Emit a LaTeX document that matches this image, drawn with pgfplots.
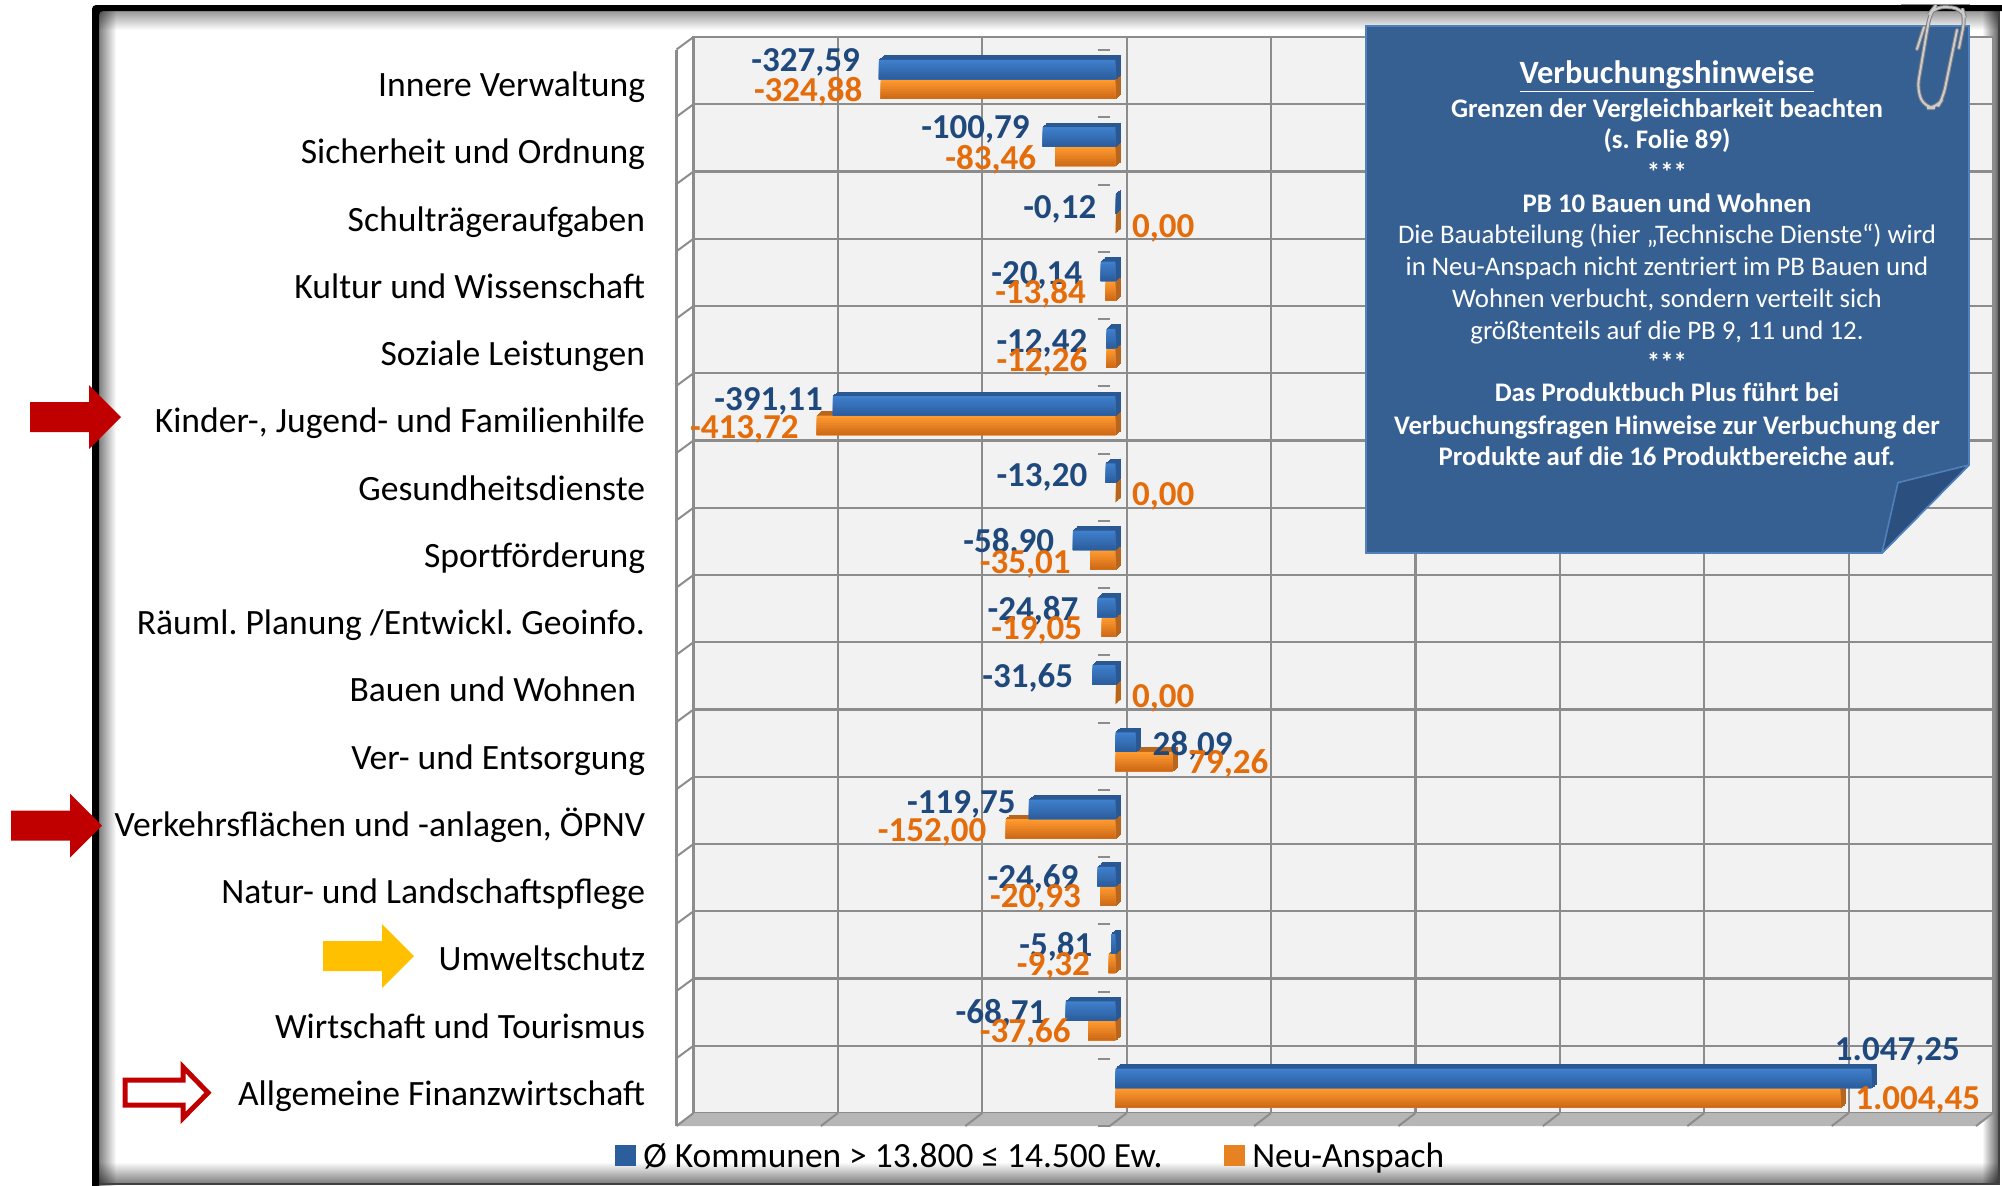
\documentclass[border=0pt]{standalone}
\usepackage{fontspec}
\setmainfont{Carlito}
\usepackage{pgfplots}
\usepackage{pgfplotstable}
\pgfplotsset{compat=1.18}
\frenchspacing
\definecolor{wallgray}{HTML}{F2F2F2}
\definecolor{gridgray}{HTML}{8C8C8C}
\definecolor{floorgray}{HTML}{B6B6B6}
\definecolor{bluetop}{HTML}{3F7FCC}
\definecolor{bluebot}{HTML}{2C5E9E}
\definecolor{blueside}{HTML}{2A5892}
\definecolor{oratop}{HTML}{FF9A2F}
\definecolor{orabot}{HTML}{CF6A18}
\definecolor{oraside}{HTML}{B8651E}
\definecolor{bluelab}{HTML}{1F497D}
\definecolor{oralab}{HTML}{E46C0A}
\definecolor{notefill}{HTML}{376092}
\definecolor{noteedge}{HTML}{4F81BD}
\definecolor{notefold}{HTML}{2B4F7E}
\definecolor{arrowred}{HTML}{C00000}
\definecolor{arrowyel}{HTML}{FFC000}
\pgfplotstableread{
row blue orange
0.5 -327.59 -324.88
1.5 -100.79 -83.46
2.5 -0.12 0.00
3.5 -20.14 -13.84
4.5 -12.42 -12.26
5.5 -391.11 -413.72
6.5 -13.20 0.00
7.5 -58.90 -35.01
8.5 -24.87 -19.05
9.5 -31.65 0.00
10.5 28.09 79.26
11.5 -119.75 -152.00
12.5 -24.69 -20.93
13.5 -5.81 -9.32
14.5 -68.71 -37.66
15.5 1047.25 1004.45
}\data
\pgfplotsset{
  chartbase/.style={scale only axis, width=649.75pt, height=538pt,
    xmin=-600, xmax=1200, ymin=0, ymax=16, y dir=reverse, clip=false},
  depth/.style={xbar, forget plot, bar width=9.75pt, line width=0.3pt}
}
\tikzset{px/.style={x=0.5pt,y=-0.5pt},
  lab/.style={font=\fontsize{17.5pt}{20pt}\selectfont\bfseries, inner sep=0pt, text height=11.2pt, text depth=0pt},
  blab/.style={lab, text=bluelab}, olab/.style={lab, text=oralab},
  nb/.style={font=\fontsize{13.4pt}{15pt}\selectfont\bfseries, text=white, inner sep=0pt, text height=9.5pt, text depth=2.8pt},
  nr/.style={font=\fontsize{13.4pt}{15pt}\selectfont, text=white, inner sep=0pt, text height=9.5pt, text depth=2.8pt}}
\newcommand{\arrowshape}[2]{(#1-91,#2-15) -- (#1-32,#2-15) -- (#1-32,#2-32) -- (#1,#2) -- (#1-32,#2+32) -- (#1-32,#2+15) -- (#1-91,#2+15) -- cycle}
\begin{document}
\begin{tikzpicture}
\useasboundingbox (0,0) rectangle (1001pt,-592.5pt);
\begin{scope}[px]
  % frame shadows
  \begin{scope}[blend mode=multiply]
  \shade[left color=black!50, right color=white] (99,11) rectangle (116,1185);
  \shade[top color=black!40, bottom color=white] (99,11) rectangle (1998,30);
  \shade[left color=white, right color=black!60] (1982,11) rectangle (1998,1184);
  \shade[top color=white, bottom color=black!50] (99,1162) rectangle (1998,1183);
  \end{scope}
  \fill[black!75] (99,1183) rectangle (1999,1185);
  \fill[black!75] (1998,11) rectangle (1999.5,1185);
  \fill[black, rounded corners=2pt] (92,1190) -- (92,5) -- (2010,5) -- (2010,11) -- (99,11) -- (99,1190) -- cycle;
  \fill[black!45] (1901,4) rectangle (1970,5);
\end{scope}
% back wall with the grid
\begin{axis}[chartbase, at={(693.5*0.5pt,-1113*0.5pt)}, anchor=south west,
  axis background/.style={fill=wallgray},
  xtick={-600,-400,...,1200}, ytick={0,1,...,16}, xticklabels={}, yticklabels={},
  major tick length=0pt, grid=major,
  grid style={gridgray, line width=1.1pt}, axis line style={gridgray, line width=1.1pt}]
\end{axis}
\begin{scope}[px]
  % floor and left wall
  \fill[floorgray] (693.5,1113) -- (1993,1113) -- (1976,1126) -- (676.5,1126) -- cycle;
  \foreach \x in {693.5,837.9,982.3,1126.7,1271.1,1415.5,1559.9,1704.3,1848.7,1993}
    \draw[gridgray, line width=1pt] (\x,1113) -- ++(-17,13);
  \foreach \r in {0,...,15}
    \draw[gridgray, line width=1pt] (693.5,37+\r*67.25) -- ++(-17,12.5);
  \draw[gridgray, line width=1.1pt] (676.5,49.5) -- (676.5,1126);
\end{scope}
% category axis in the front plane: short ticks at zero
\begin{axis}[chartbase, at={(676.5*0.5pt,-1126*0.5pt)}, anchor=south west,
  axis y line=center, axis x line=none, xtick=\empty, ytick={0,1,...,16}, yticklabels={},
  tick align=outside, major tick length=6pt, tick style={gridgray, line width=1pt},
  y axis line style={draw=none,-}]
\end{axis}
% category names
\begin{axis}[chartbase, at={(676.5*0.5pt,-1126*0.5pt)}, anchor=south west,
  axis line style={draw=none}, tick style={draw=none}, xtick=\empty,
  ytick={0.5,1.5,...,15.5},
  yticklabel style={font=\fontsize{17.8pt}{20pt}\selectfont, text=black, anchor=east,
     xshift=-15.5pt, yshift=-2.2pt, text height=12pt, text depth=3.5pt, inner sep=0pt},
  yticklabels={Innere Verwaltung, Sicherheit und Ordnung, Schulträgeraufgaben, Kultur und Wissenschaft,
    Soziale Leistungen, {Kinder-, Jugend- und Familienhilfe}, Gesundheitsdienste, Sportförderung,
    Räuml. Planung /Entwickl. Geoinfo., Bauen und Wohnen\hspace*{4.5pt}\mbox{}, Ver- und Entsorgung,
    {Verkehrsflächen und -anlagen, ÖPNV}, Natur- und Landschaftspflege, Umweltschutz,
    Wirtschaft und Tourismus, Allgemeine Finanzwirtschaft}]
\end{axis}
% the bars
\begin{axis}[chartbase, at={(682.1*0.5pt,-1121.7*0.5pt)}, anchor=south west,
  axis line style={draw=none}, tick style={draw=none}, xtick=\empty, ytick=\empty,
  legend columns=2,
  legend style={at={(-0.052,-0.0325)}, anchor=west, draw=none, fill=none,
    font=\fontsize{17.7pt}{20pt}\selectfont, inner sep=0pt, outer sep=0pt,
    /tikz/every even column/.append style={column sep=29pt}},
  legend cell align=left]
  \addlegendimage{legend image code/.code={\fill[bluebot] (0pt,-4.5pt) rectangle (10pt,5.5pt); \path (12pt,0pt);}}
  \addlegendentry{Ø Kommunen > 13.800 ≤ 14.500 Ew.}
  \addlegendimage{legend image code/.code={\fill[oratop!50!orabot] (0pt,-4.5pt) rectangle (10pt,5.5pt); \path (11.5pt,0pt);}}
  \addlegendentry{Neu-Anspach}
  % orange: depth, then face
  \pgfplotsinvokeforeach{6,5,...,1}{
    \addplot[depth, bar shift=-4.875pt, draw=oraside, fill=oraside, xshift=#1*0.42pt, yshift=#1*0.34pt]
      table[x=orange,y=row]{\data};
  }
  \pgfplotsinvokeforeach{0,...,7}{
    \addplot[xbar, forget plot, draw=none, bar width={(19.5-#1*2.4375)*0.5pt}, bar shift={-(19.5-#1*2.4375)*0.25pt-(#1*2.4375)*0.5pt},
       fill=oratop!\the\numexpr100-#1*14\relax!orabot] table[x=orange,y=row]{\data};
  }
  % blue: depth, then face
  \pgfplotsinvokeforeach{6,5,...,1}{
    \addplot[depth, bar shift=4.875pt, draw=blueside, fill=blueside, xshift=#1*0.42pt, yshift=#1*0.34pt]
      table[x=blue,y=row]{\data};
  }
  \pgfplotsinvokeforeach{0,...,7}{
    \addplot[xbar, forget plot, draw=none, bar width={(19.5-#1*2.4375)*0.5pt}, bar shift={(19.5-#1*2.4375)*0.25pt},
       fill=bluetop!\the\numexpr100-#1*14\relax!bluebot] table[x=blue,y=row]{\data};
  }
\end{axis}
% note
\begin{scope}[px]
  \filldraw[fill=notefill, draw=noteedge, line width=0.8pt] (1366,26) -- (1969,26) -- (1969,465) -- (1882,553) -- (1366,553) -- cycle;
  \filldraw[fill=notefold, draw=noteedge, line width=0.8pt, line join=round] (1969,465) -- (1898,482.6) -- (1882,553) -- cycle;
  \node[nb, font=\fontsize{16.25pt}{18pt}\selectfont\bfseries, text height=11pt, text depth=3.5pt] at (1667,76) {\underline{Verbuchungshinweise}};
  \node[nb] at (1667,110.5) {Grenzen der Vergleichbarkeit beachten};
  \node[nb] at (1667,141.5) {(s. Folie 89)};
  \node[nb] at (1667,175) {***};
  \node[nb] at (1667,205.5) {PB 10 Bauen und Wohnen};
  \node[nr] at (1667,236.5) {Die Bauabteilung (hier „Technische Dienste“) wird};
  \node[nr] at (1667,268.5) {in Neu-Anspach nicht zentriert im PB Bauen und};
  \node[nr] at (1667,300.5) {Wohnen verbucht, sondern verteilt sich};
  \node[nr] at (1667,332.5) {größtenteils auf die PB 9, 11 und 12.};
  \node[nb] at (1667,365) {***};
  \node[nb] at (1667,394.5) {Das Produktbuch Plus führt bei};
  \node[nb] at (1667,427.5) {Verbuchungsfragen Hinweise zur Verbuchung der};
  \node[nb] at (1667,458.5) {Produkte auf die 16 Produktbereiche auf.};
  % paper clip
  \foreach \c/\w in {black!50/2pt, black!20/1pt}{
    \draw[\c, line width=\w, rounded corners=5pt, line cap=round]
      (1959,48) -- (1965,18) -- (1962,8) -- (1935,6.5) -- (1930,13) -- (1917,90) -- (1925,108) -- (1937,108) -- (1943,98) -- (1957,30);
    \draw[\c, line width=\w, line cap=round] (1917,49) -- (1924,27);
  }
  % arrows
  \fill[arrowred] \arrowshape{121}{417};
  \fill[arrowred] \arrowshape{102}{825.5};
  \fill[arrowyel] \arrowshape{414}{956};
  \filldraw[fill=white, draw=arrowred, line width=2.5pt, miter limit=6]
     (125,1080) -- (183,1080) -- (183,1067) -- (208,1092.7) -- (183,1118) -- (183,1105) -- (125,1105) -- cycle;
\end{scope}
% data labels
\begin{scope}[x=0.6384pt,y=-0.6384pt]
  \node[blab] at (631,47) {-327,59};
  \node[blab] at (764,100) {-100,79};
  \node[blab] at (830,162) {-0,12};
  \node[blab] at (812,214) {-20,14};
  \node[blab] at (816,267) {-12,42};
  \node[blab] at (602,313) {-391,11};
  \node[blab] at (816,372) {-13,20};
  \node[blab] at (790,424) {-58,90};
  \node[blab] at (809,477) {-24,87};
  \node[blab] at (805,530) {-31,65};
  \node[blab] at (934,583) {28,09};
  \node[blab] at (753,628) {-119,75};
  \node[blab] at (809,687) {-24,69};
  \node[blab] at (827,740) {-5,81};
  \node[blab] at (784,793) {-68,71};
  \node[blab] at (1486,822) {1.047,25};
  \node[olab] at (633,71) {-324,88};
  \node[olab] at (776,124) {-83,46};
  \node[olab] at (911,177) {0,00};
  \node[olab] at (815,229) {-13,84};
  \node[olab] at (816,282) {-12,26};
  \node[olab] at (583,335) {-413,72};
  \node[olab] at (911,387) {0,00};
  \node[olab] at (803,440) {-35,01};
  \node[olab] at (812,492) {-19,05};
  \node[olab] at (911,545) {0,00};
  \node[olab] at (962,597) {79,26};
  \node[olab] at (730,650) {-152,00};
  \node[olab] at (811,702) {-20,93};
  \node[olab] at (825,755) {-9,32};
  \node[olab] at (803,808) {-37,66};
  \node[olab] at (1502,860) {1.004,45};
\end{scope}
\end{tikzpicture}
\end{document}
